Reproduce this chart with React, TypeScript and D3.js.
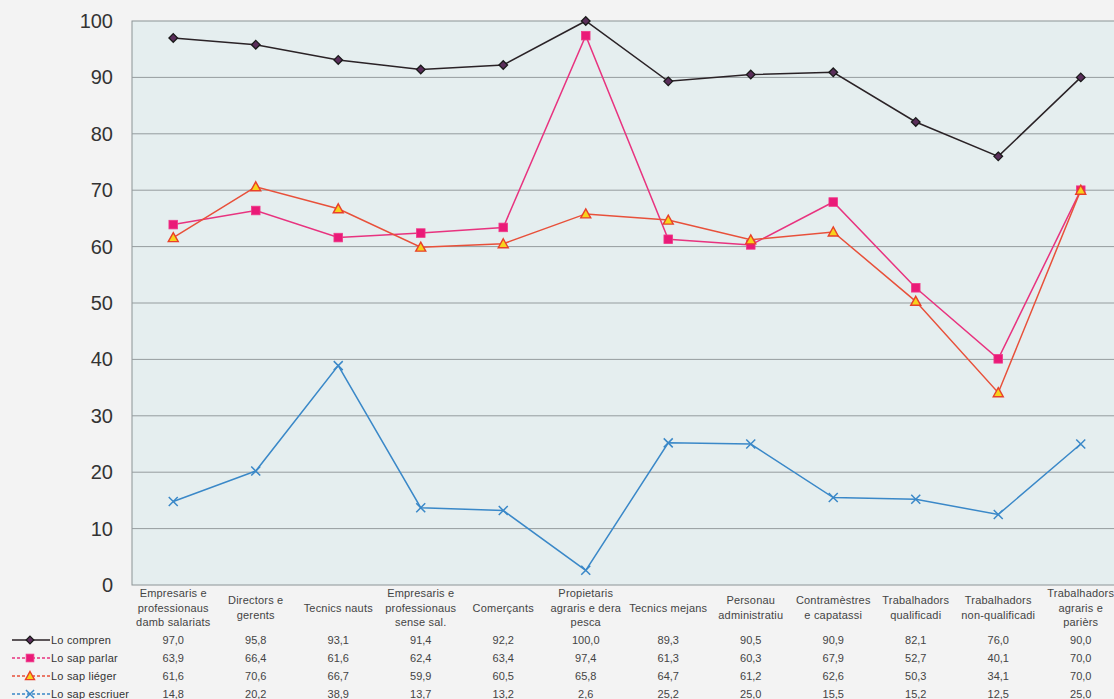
import React from "react";
import * as d3 from "d3";

const categories: string[][] = [
  ["Empresaris e", "professionaus", "damb salariats"],
  ["Directors e", "gerents"],
  ["Tecnics nauts"],
  ["Empresaris e", "professionaus", "sense sal."],
  ["Comerçants"],
  ["Propietaris", "agraris e dera", "pesca"],
  ["Tecnics mejans"],
  ["Personau", "administratiu"],
  ["Contramèstres", "e capatassi"],
  ["Trabalhadors", "qualificadi"],
  ["Trabalhadors", "non-qualificadi"],
  ["Trabalhadors", "agraris e", "parièrs"],
];

const comprenValues = [97.0, 95.8, 93.1, 91.4, 92.2, 100.0, 89.3, 90.5, 90.9, 82.1, 76.0, 90.0];
const parlarValues = [63.9, 66.4, 61.6, 62.4, 63.4, 97.4, 61.3, 60.3, 67.9, 52.7, 40.1, 70.0];
const liegerValues = [61.6, 70.6, 66.7, 59.9, 60.5, 65.8, 64.7, 61.2, 62.6, 50.3, 34.1, 70.0];
const escriuerValues = [14.8, 20.2, 38.9, 13.7, 13.2, 2.6, 25.2, 25.0, 15.5, 15.2, 12.5, 25.0];

const yTicks = [0, 10, 20, 30, 40, 50, 60, 70, 80, 90, 100];

const seriesNames = ["Lo compren", "Lo sap parlar", "Lo sap liéger", "Lo sap escriuer"];

const series = [
  { name: seriesNames[0], values: comprenValues, color: "#2a2226", marker: "diamond", dash: "" },
  { name: seriesNames[1], values: parlarValues, color: "#e8337f", marker: "square", dash: "3,2" },
  { name: seriesNames[2], values: liegerValues, color: "#e8503a", marker: "triangle", dash: "3,2" },
  { name: seriesNames[3], values: escriuerValues, color: "#3a88c8", marker: "cross", dash: "3,2" },
];

const W = 1114;
const H = 699;
const left = 132;
const step = 82.5;
const top = 21;
const bottom = 585;
const font = "'Liberation Sans', Arial, sans-serif";

function Marker({ type, x, y, color, k = 1 }: { type: string; x: number; y: number; color: string; k?: number }) {
  if (type === "diamond") {
    const s = 4.3 * k;
    return (
      <path
        d={`M${x},${y - s}L${x + s},${y}L${x},${y + s}L${x - s},${y}Z`}
        fill="#5a2e5a"
        stroke="#1a1a1a"
        strokeWidth={1.3}
      />
    );
  }
  if (type === "square") {
    const s = 4.3 * k;
    return <rect x={x - s} y={y - s} width={2 * s} height={2 * s} fill="#ea1a78" stroke="#f03a8a" strokeWidth={0.8} />;
  }
  if (type === "triangle") {
    const s = 5 * k;
    return (
      <path
        d={`M${x},${y - s}L${x + s},${y + s * 0.8}L${x - s},${y + s * 0.8}Z`}
        fill="#f7d21c"
        stroke="#e8402a"
        strokeWidth={1.4}
      />
    );
  }
  const s = 4.5 * k;
  return (
    <path
      d={`M${x - s},${y - s}L${x + s},${y + s}M${x + s},${y - s}L${x - s},${y + s}`}
      stroke={color}
      strokeWidth={1.5}
      fill="none"
    />
  );
}

export default function App() {
  const x = d3
    .scalePoint<number>()
    .domain(d3.range(categories.length))
    .range([left, left + step * categories.length])
    .padding(0.5);
  const y = d3.scaleLinear().domain([0, 100]).range([bottom, top]);
  const line = d3
    .line<number>()
    .x((_, i) => x(i) as number)
    .y((d) => y(d));

  const fmt = (v: number) => v.toFixed(1).replace(".", ",");
  const rowY = [644, 662, 680, 698];

  return (
    <svg
      width={W}
      height={H}
      style={{ position: "absolute", left: 0, top: 0, background: "#f3f3f3", fontFamily: font }}
    >
      <rect x={0} y={0} width={W} height={H} fill="#f3f3f3" />
      <rect x={left} y={top} width={W - left + 20} height={bottom - top} fill="#e5eeef" stroke="#8c9496" strokeWidth={1} />
      {yTicks.map((t) => (
        <g key={t}>
          {t > 0 && t < 100 && (
            <line x1={left} x2={W + 20} y1={y(t)} y2={y(t)} stroke="#959c9e" strokeWidth={1} />
          )}
          <text x={113} y={y(t) + 7} textAnchor="end" fontSize={20} fill="#333">
            {t}
          </text>
        </g>
      ))}
      {series.map((s) => (
        <g key={s.name}>
          <path d={line(s.values) || ""} fill="none" stroke={s.color} strokeWidth={1.5} />
          {s.values.map((v, i) => (
            <Marker key={i} type={s.marker} x={x(i) as number} y={y(v)} color={s.color} />
          ))}
        </g>
      ))}
      {categories.map((lines, i) => {
        const lh = 14.5;
        const startY = 611.5 - ((lines.length - 1) * lh) / 2;
        return (
          <text key={i} textAnchor="middle" fontSize={11} fill="#444" letterSpacing={0.2}>
            {lines.map((l, j) => (
              <tspan key={j} x={x(i) as number} y={startY + j * lh}>
                {l}
              </tspan>
            ))}
          </text>
        );
      })}
      {series.map((s, r) => (
        <g key={s.name}>
          <line x1={12} x2={50} y1={rowY[r] - 4} y2={rowY[r] - 4} stroke={s.color} strokeWidth={1.3} strokeDasharray={s.dash} />
          <Marker type={s.marker} x={30} y={rowY[r] - 4} color={s.color} k={0.9} />
          <text x={51} y={rowY[r]} fontSize={11} fill="#333" letterSpacing={0.2}>
            {s.name}
          </text>
          {s.values.map((v, i) => (
            <text key={i} x={x(i) as number} y={rowY[r]} textAnchor="middle" fontSize={11} fill="#444">
              {fmt(v)}
            </text>
          ))}
        </g>
      ))}
    </svg>
  );
}
